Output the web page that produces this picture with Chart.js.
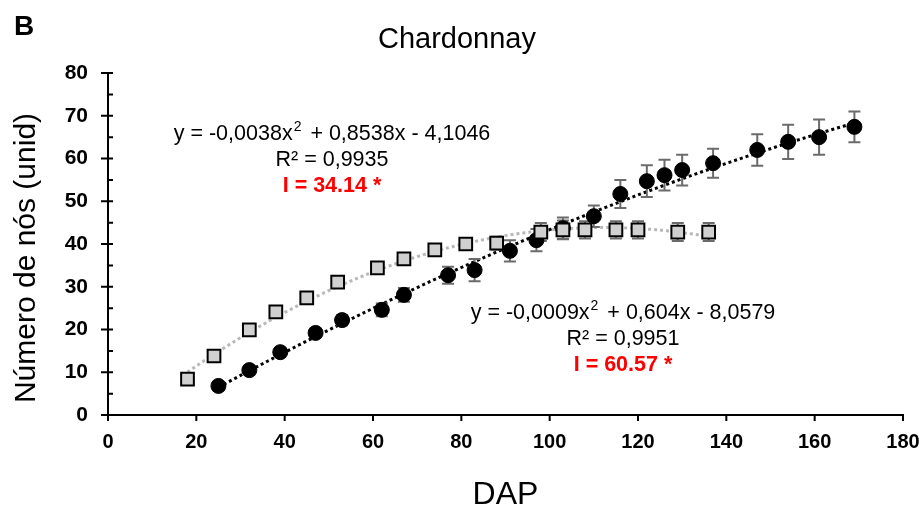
<!DOCTYPE html>
<html>
<head>
<meta charset="utf-8">
<script src="https://cdn.jsdelivr.net/npm/chart.js@4.4.0/dist/chart.umd.min.js"></script>
<style>
  html, body { margin: 0; padding: 0; background: #fff; }
  #wrap { width: 919px; height: 509px; }
</style>
</head>
<body>
<div id="wrap"><canvas id="chart" width="919" height="509"></canvas></div>
<script>
// Gray squares series (DAP, number of nodes, error)
const SQUARE_DAP = [18, 24, 32, 38, 45, 52, 61, 67, 74, 81, 88, 98, 103, 108, 115, 120, 129, 136];
const SQUARE_NODES = [8.4, 13.8, 19.9, 24.1, 27.4, 31.1, 34.4, 36.5, 38.6, 40.0, 40.2, 42.8, 43.3, 43.3, 43.3, 43.3, 42.8, 42.8];
const SQUARE_ERR = [0.8, 0.9, 1.0, 1.0, 1.0, 1.0, 1.2, 1.2, 1.3, 1.3, 1.5, 2.1, 2.2, 2.0, 2.0, 2.0, 2.1, 2.1];

// Black circles series
const CIRCLE_DAP = [25, 32, 39, 47, 53, 62, 67, 77, 83, 91, 97, 103, 110, 116, 122, 126, 130, 137, 147, 154, 161, 169];
const CIRCLE_NODES = [6.8, 10.5, 14.7, 19.2, 22.2, 24.6, 28.1, 32.7, 33.9, 38.4, 40.9, 43.7, 46.5, 51.7, 54.7, 56.1, 57.3, 58.9, 62.0, 63.9, 65.0, 67.4];
const CIRCLE_ERR = [1.0, 1.0, 1.0, 1.0, 1.2, 1.5, 1.6, 2.0, 2.6, 2.5, 2.6, 2.5, 2.5, 3.3, 3.7, 3.6, 3.6, 3.4, 3.7, 4.0, 4.1, 3.6];

// Polynomial trendlines: [c0, c1, c2] for y = c2*x^2 + c1*x + c0
const SQUARE_FIT = [-4.1046, 0.8538, -0.0038];
const CIRCLE_FIT = [-8.0579, 0.604, -0.0009];
const R2_VALUES = [0.9935, 0.9951];
const I_VALUES = [34.14, 60.57];

const X_TICKS = [0, 20, 40, 60, 80, 100, 120, 140, 160, 180];
const Y_TICKS = [0, 10, 20, 30, 40, 50, 60, 70, 80];

const FONT = "'Liberation Sans', Arial, sans-serif";

function fmtComma(v) {
  return String(Math.abs(v)).replace(".", ",");
}

// equation as pieces so the "2" can be drawn as superscript
function eqParts(fit) {
  const a = fit[2] < 0 ? "-" + fmtComma(fit[2]) : fmtComma(fit[2]);
  const b = (fit[1] < 0 ? " - " : " + ") + fmtComma(fit[1]) + "x";
  const c = (fit[0] < 0 ? " - " : " + ") + fmtComma(fit[0]);
  return ["y = " + a + "x", "2", b + c];
}

function polyAt(fit, x) {
  return fit[0] + fit[1] * x + fit[2] * x * x;
}

// error whiskers under the markers
const errorBars = {
  id: "errorBars",
  beforeDatasetsDraw(chart) {
    const { ctx, scales: { x, y } } = chart;
    const groups = [[CIRCLE_DAP, CIRCLE_NODES, CIRCLE_ERR], [SQUARE_DAP, SQUARE_NODES, SQUARE_ERR]];
    ctx.save();
    ctx.strokeStyle = "#6b6b6b";
    ctx.lineWidth = 2;
    for (const [xs, ys, es] of groups) {
      xs.forEach((d, i) => {
        const px = x.getPixelForValue(d);
        const top = y.getPixelForValue(ys[i] + es[i]);
        const bot = y.getPixelForValue(ys[i] - es[i]);
        ctx.beginPath();
        ctx.moveTo(px, top); ctx.lineTo(px, bot);
        ctx.moveTo(px - 6, top); ctx.lineTo(px + 6, top);
        ctx.moveTo(px - 6, bot); ctx.lineTo(px + 6, bot);
        ctx.stroke();
      });
    }
    ctx.restore();
  }
};

// dotted polynomial trendlines
const trendLines = {
  id: "trendLines",
  beforeDatasetsDraw(chart) {
    const { ctx, scales: { x, y } } = chart;
    const fits = [
      [SQUARE_FIT, SQUARE_DAP, "#b8b8b8"],
      [CIRCLE_FIT, CIRCLE_DAP, "#000000"],
    ];
    ctx.save();
    ctx.lineWidth = 3;
    ctx.setLineDash([3, 3]);
    for (const [fit, xs, color] of fits) {
      const x0 = xs[0], x1 = xs[xs.length - 1];
      ctx.strokeStyle = color;
      ctx.beginPath();
      for (let d = x0; d <= x1 + 0.001; d += 0.5) {
        const px = x.getPixelForValue(d);
        const py = y.getPixelForValue(polyAt(fit, d));
        if (d === x0) ctx.moveTo(px, py); else ctx.lineTo(px, py);
      }
      ctx.stroke();
    }
    ctx.restore();
  }
};

// axis ticks: majors cross the y axis, minors on the inside, x ticks go down
const axisTicks = {
  id: "axisTicks",
  afterDraw(chart) {
    const { ctx, chartArea: a, scales: { x, y } } = chart;
    ctx.save();
    ctx.strokeStyle = "#000";
    ctx.lineWidth = 2;
    ctx.beginPath();
    for (let v = 0; v <= 80; v += 5) {
      const py = y.getPixelForValue(v);
      const major = v % 10 === 0;
      ctx.moveTo(a.left - (major ? 7 : 0), py);
      ctx.lineTo(a.left + 5, py);
    }
    X_TICKS.forEach(v => {
      const px = x.getPixelForValue(v);
      ctx.moveTo(px, a.bottom);
      ctx.lineTo(px, a.bottom + 6);
    });
    ctx.stroke();
    ctx.restore();
  }
};

function drawEquation(ctx, fit, r2, iv, cx, cy) {
  const parts = eqParts(fit);
  ctx.font = "21.5px " + FONT;
  const w0 = ctx.measureText(parts[0]).width;
  const w2 = ctx.measureText(parts[2]).width;
  ctx.font = "14px " + FONT;
  const w1 = ctx.measureText(parts[1]).width + 4;
  let left = cx - (w0 + w1 + w2) / 2;
  ctx.textAlign = "left";
  ctx.textBaseline = "middle";
  ctx.fillStyle = "#000";
  ctx.font = "21.5px " + FONT;
  ctx.fillText(parts[0], left, cy);
  ctx.font = "14px " + FONT;
  ctx.fillText(parts[1], left + w0 + 1, cy - 7);
  ctx.font = "21.5px " + FONT;
  ctx.fillText(parts[2], left + w0 + w1, cy);
  ctx.textAlign = "center";
  ctx.fillText("R\u00b2 = " + fmtComma(r2), cx, cy + 26);
  ctx.font = "bold 21.5px " + FONT;
  ctx.fillStyle = "#ff0000";
  ctx.fillText("I = " + iv.toFixed(2) + " *", cx, cy + 52);
}

const labels = {
  id: "labels",
  afterDraw(chart) {
    const { ctx, chartArea: a } = chart;
    ctx.save();
    ctx.fillStyle = "#000";
    ctx.textBaseline = "middle";
    ctx.textAlign = "left";
    ctx.font = "bold 28px " + FONT;
    ctx.fillText("B", 14, 27);
    ctx.textAlign = "center";
    ctx.font = "29px " + FONT;
    ctx.fillText("Chardonnay", 457, 40);
    ctx.font = "32px " + FONT;
    ctx.fillText("DAP", (a.left + a.right) / 2, 495);
    ctx.save();
    ctx.translate(27, 258);
    ctx.rotate(-Math.PI / 2);
    ctx.font = "30px " + FONT;
    ctx.fillText("Número de nós (unid)", 0, 0);
    ctx.restore();
    drawEquation(ctx, SQUARE_FIT, R2_VALUES[0], I_VALUES[0], 332, 134);
    drawEquation(ctx, CIRCLE_FIT, R2_VALUES[1], I_VALUES[1], 623, 313);
    ctx.restore();
  }
};

new Chart(document.getElementById("chart"), {
  type: "scatter",
  data: {
    datasets: [
      {
        label: "squares",
        data: SQUARE_DAP.map((d, i) => ({ x: d, y: SQUARE_NODES[i] })),
        pointStyle: "rect",
        pointRadius: 9,
        pointBackgroundColor: "#d0d0d0",
        pointBorderColor: "#000",
        pointBorderWidth: 2,
      },
      {
        label: "circles",
        data: CIRCLE_DAP.map((d, i) => ({ x: d, y: CIRCLE_NODES[i] })),
        pointStyle: "circle",
        pointRadius: 7.5,
        pointBackgroundColor: "#000",
        pointBorderColor: "#000",
        pointBorderWidth: 1,
      },
    ],
  },
  options: {
    responsive: false,
    animation: false,
    layout: { padding: { top: 73, right: 0, left: 0, bottom: 0 } },
    plugins: {
      legend: { display: false },
      title: { display: false },
      tooltip: { enabled: false },
    },
    scales: {
      x: {
        type: "linear",
        min: 0,
        max: 180,
        afterFit: (s) => { s.height = 94; s.paddingRight = 16; s.paddingLeft = 0; },
        afterBuildTicks: (s) => { s.ticks = X_TICKS.map(v => ({ value: v })); },
        grid: { display: false, drawTicks: false },
        border: { display: true, color: "#000", width: 2 },
        ticks: { padding: 15, color: "#000", font: { family: FONT, size: 20, weight: "bold" } },
      },
      y: {
        type: "linear",
        min: 0,
        max: 80,
        afterFit: (s) => { s.width = 108; },
        afterBuildTicks: (s) => { s.ticks = Y_TICKS.map(v => ({ value: v })); },
        grid: { display: false, drawTicks: false },
        border: { display: true, color: "#000", width: 2 },
        ticks: { padding: 20, color: "#000", font: { family: FONT, size: 21, weight: "bold" } },
      },
    },
  },
  plugins: [trendLines, errorBars, axisTicks, labels],
});
</script>
</body>
</html>
